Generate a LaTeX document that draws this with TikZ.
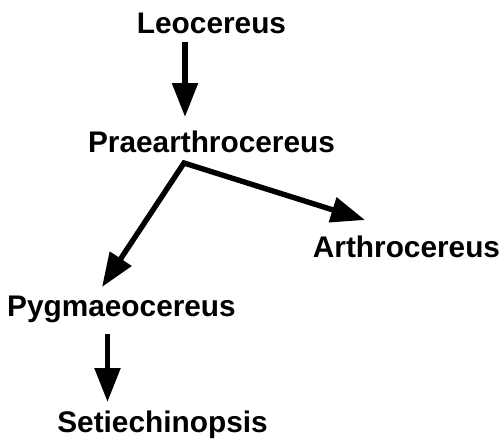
\documentclass[tikz,border=0pt]{standalone}
\usepackage{fontspec}
\setmainfont{Liberation Sans}
\usepackage{tikz}
\usetikzlibrary{arrows.meta,positioning,calc}

\begin{document}
\begin{tikzpicture}[
  x=0.5pt, y=-0.5pt,
  genus/.style={inner sep=0pt, anchor=base,
    font=\fontsize{14.9}{17}\selectfont\bfseries},
  arr/.style={-{Triangle[length=17pt, width=12.5pt]}, line width=2.7pt},
  biarr/.style={{Triangle[length=17pt, width=12.5pt]}-{Triangle[length=17pt, width=12.5pt]},
    line width=2.7pt, line join=miter},
]
\useasboundingbox (0,0) rectangle (502,440);

\node[genus] (leo)    at (211.5,33)  {Leocereus};
\node[genus] (prae)   at (211.5,152) {Praearthrocereus};
\node[genus] (arthro) at (406.5,257) {Arthrocereus};
\node[genus] (pyg)    at (121.5,316) {Pygmaeocereus};
\node[genus] (seti)   at (162.5,432) {Setiechinopsis};

% fork below Praearthrocereus
\coordinate (fork) at ([shift={(-27.5,11)}]prae.base);

% Arrows
\draw[arr] ([shift={(-26.5,9)}]leo.base) -- ([shift={(-26.5,-35)}]prae.base);
\draw[biarr] ([shift={(-19.5,-29)}]pyg.base) -- (fork)
  -- ([shift={(-41.5,-37)}]arthro.base);
\draw[arr] ([shift={(-14,18)}]pyg.base) -- ([shift={(-55,-30)}]seti.base);

\end{tikzpicture}
\end{document}
